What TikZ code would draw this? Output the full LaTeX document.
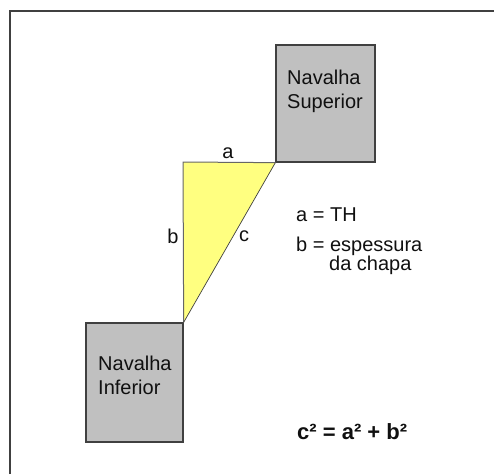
\documentclass[tikz,border=0pt]{standalone}
\usepackage{fontspec}
\setmainfont{Liberation Sans}
\definecolor{boxgray}{HTML}{C0C0C0}
\definecolor{boxline}{HTML}{404040}
\definecolor{triyellow}{HTML}{FFFF80}
\definecolor{txt}{HTML}{101010}
\begin{document}
\begin{tikzpicture}[x=1pt,y=-1pt,
  box/.style={draw=boxline,line width=1.3pt,fill=boxgray,inner sep=0pt},
  lbl/.style={anchor=base west,inner sep=0pt,font=\fontsize{20}{24}\selectfont,text=txt},
  clbl/.style={anchor=base,inner sep=0pt,font=\fontsize{20}{24}\selectfont,text=txt}]
\useasboundingbox (0,0) rectangle (494,474);
% open frame
\draw[boxline,line width=1.5pt] (10,474) -- (10,11) -- (494,11);
% boxes
\node[box,minimum width=99pt,minimum height=117pt] (sup) at (325.5,103.5) {};
\node[box,minimum width=97pt,minimum height=119pt] (inf) at (134.5,382.5) {};
% triangle
\coordinate (A) at (183,162);
\fill[triyellow] (A) -- (sup.south west) -- (inf.north east) -- cycle;
\draw[gray!80!black,line width=1pt] (inf.north east) -- (A) -- (sup.south west);
\draw[boxline,line width=0.7pt] (sup.south west) -- (inf.north east);
% box texts
\node[lbl] (s1) at (287,84) {Navalha};
\node[lbl] (s2) at (287,108) {Superior};
\node[lbl] (i1) at (98,370) {Navalha};
\node[lbl] (i2) at (98,394) {Inferior};
% side labels
\node[clbl] (la) at (228,158) {a};
\node[clbl] (lb) at (173,243) {b};
\node[clbl] (lc) at (244,241) {c};
% legend
\node[lbl] (t1) at (296,221) {a = TH};
\node[lbl] (t2) at (296,251) {b = espessura};
\node[lbl] (t3) at (329,270) {da chapa};
\node[lbl,font=\bfseries\fontsize{22}{26}\selectfont] (eq) at (297,439) {c² = a² + b²};
\end{tikzpicture}
\end{document}
